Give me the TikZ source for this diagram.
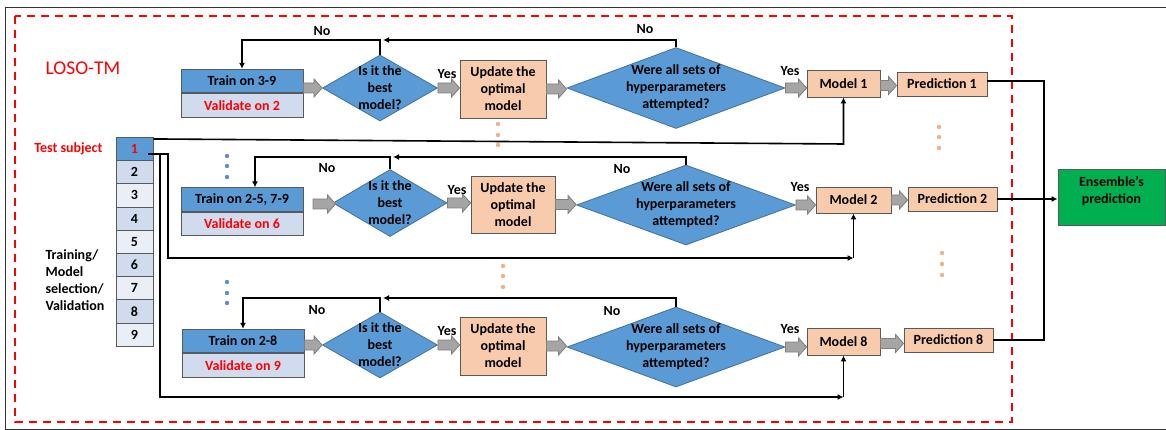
\documentclass[tikz,border=0pt]{standalone}
\usepackage{fontspec}
\setmainfont{Carlito}
\usetikzlibrary{shapes.geometric,arrows.meta,positioning,calc}

\definecolor{boxblue}{HTML}{5B9BD5}
\definecolor{diaedge}{HTML}{41719C}
\definecolor{valblue}{HTML}{D0DCEE}
\definecolor{celllight}{HTML}{E9EEF7}
\definecolor{peach}{HTML}{F8CBAD}
\definecolor{dotpeach}{HTML}{F4B183}
\definecolor{dotblue}{HTML}{5B8FCB}
\definecolor{arrgray}{HTML}{A5A5A5}
\definecolor{arredge}{HTML}{7F7F7F}
\definecolor{boxedge}{HTML}{595959}
\definecolor{enscol}{HTML}{00B050}
\definecolor{losored}{HTML}{FF0000}

\tikzset{
	txt/.style={font=\fontsize{14}{17}\selectfont\bfseries, align=center},
	trainbox/.style={txt, draw=boxedge, line width=0.9pt, fill=boxblue, minimum width=122pt, minimum height=23.5pt, inner sep=0pt},
	valbox/.style={trainbox, fill=valblue, text=losored},
	peachbox/.style={txt, draw=boxedge, line width=0.9pt, fill=peach, inner sep=0pt},
	decide/.style={diamond, draw=diaedge, line width=0.8pt, fill=boxblue, inner sep=0pt, aspect=1.7},
	cell/.style={txt, draw=boxedge, line width=0.9pt, minimum width=37pt, minimum height=23.2pt, inner sep=0pt},
	conn/.style={line width=1.6pt, -{Latex[length=6pt,width=6pt]}},
	blkarrow/.style={draw=arredge, fill=arrgray, line width=0.8pt,
		to path={let \p1=(\tikztostart), \p2=(\tikztotarget) in
			(\x1,\y1+5pt) -- (\x2-8pt,\y1+5pt) -- (\x2-8pt,\y1+9pt) -- (\x2,\y1)
			-- (\x2-8pt,\y1-9pt) -- (\x2-8pt,\y1-5pt) -- (\x1,\y1-5pt) -- cycle}},
	dots/.style={radius=2.2pt}
}

\begin{document}
\begin{tikzpicture}[x=1pt,y=-1pt]
	\useasboundingbox (0,0) rectangle (1166,430);
	\draw[line width=0.8pt, black!80] (1166,7) -- (5,7) -- (5,429) -- (1166,429);
	\draw[losored, line width=2pt, dash pattern=on 8pt off 6pt] (15,16) rectangle (1012,422);
	
	\node[font=\fontsize{19.5}{22}\selectfont, text=losored] (loso) at (83,68) {LOSO-TM};
	\node[txt, text=losored, anchor=east] (testlbl) at (106,149) {Test subject};
	\node[txt, align=left, anchor=west] (trainlbl) at (42,280.5) {Training/\\Model\\selection/\\Validation};
	
	% subjects
	\node[cell, fill=boxblue, text=losored] (c1) at (134.5,149) {1};
	\node[cell, fill=valblue] (c2) at (134.5,172.2) {2};
	\node[cell, fill=celllight] (c3) at (134.5,195.4) {3};
	\node[cell, fill=valblue] (c4) at (134.5,218.6) {4};
	\node[cell, fill=celllight] (c5) at (134.5,241.8) {5};
	\node[cell, fill=valblue] (c6) at (134.5,265) {6};
	\node[cell, fill=celllight] (c7) at (134.5,288.2) {7};
	\node[cell, fill=valblue] (c8) at (134.5,311.4) {8};
	\node[cell, fill=celllight] (c9) at (134.5,334.6) {9};
	
	% fold 1
	\node[trainbox] (tr1) at (242,81) {Train on 3-9};
	\node[valbox, below=0pt of tr1] (va1) {Validate on 2};
	\node[decide, minimum width=115pt, minimum height=66pt, label={[txt]center:{Is it the\\best\\model?}}] (d11) at (380,88) {};
	\node[peachbox, minimum width=86pt, minimum height=58pt] (up1) at (503,89) {Update the\\optimal\\model};
	\node[decide, minimum width=218pt, minimum height=81pt, label={[txt]center:{Were all sets of\\hyperparameters\\attempted?}}] (d12) at (676,88) {};
	\node[peachbox, minimum width=73pt, minimum height=27pt] (m1) at (843.5,83.5) {Model 1};
	\node[peachbox, minimum width=90pt, minimum height=24pt] (p1) at (942,84) {Prediction 1};
	
	% fold 2
	\node[trainbox] (tr2) at (242,199.5) {Train on 2-5, 7-9};
	\node[valbox, below=0pt of tr2] (va2) {Validate on 6};
	\node[decide, minimum width=114pt, minimum height=67pt, label={[txt]center:{Is it the\\best\\model?}}] (d21) at (390,203) {};
	\node[peachbox, minimum width=84pt, minimum height=57pt] (up2) at (513,204.5) {Update the\\optimal\\model};
	\node[decide, minimum width=219pt, minimum height=80pt, label={[txt]center:{Were all sets of\\hyperparameters\\attempted?}}] (d22) at (686,205) {};
	\node[peachbox, minimum width=75pt, minimum height=26pt] (m2) at (853.5,200) {Model 2};
	\node[peachbox, minimum width=89pt, minimum height=24pt] (p2) at (952.5,199) {Prediction 2};
	
	% fold 8
	\node[trainbox] (tr3) at (243,341) {Train on 2-8};
	\node[valbox, below=0pt of tr3] (va3) {Validate on 9};
	\node[decide, minimum width=115pt, minimum height=66pt, label={[txt]center:{Is it the\\best\\model?}}] (d31) at (380,345) {};
	\node[peachbox, minimum width=86pt, minimum height=58pt] (up3) at (503,346) {Update the\\optimal\\model};
	\node[decide, minimum width=218pt, minimum height=80pt, label={[txt]center:{Were all sets of\\hyperparameters\\attempted?}}] (d32) at (676,347) {};
	\node[peachbox, minimum width=73pt, minimum height=27pt] (m8) at (843.5,341.5) {Model 8};
	\node[peachbox, minimum width=89pt, minimum height=24pt] (p8) at (948.5,340) {Prediction 8};
	
	\node[draw=boxedge, line width=0.9pt, fill=enscol, minimum width=107pt, minimum height=56pt, inner sep=0pt, label={[txt,yshift=6pt]center:{Ensemble’s\\prediction}}] (ens) at (1111.5,197) {};
	
	% block arrows
	\draw[blkarrow] (tr1.east |- d11.west) to (d11.west);
	\draw[blkarrow] (d11.east) to (up1.west);
	\draw[blkarrow] (up1.east) to (d12.west);
	\draw[blkarrow] (d12.east) to (m1.west);
	\draw[blkarrow] ([yshift=-2pt]m1.east) to (p1.west);
	\coordinate (a2) at (313,204);
	\draw[blkarrow] (a2) to ([xshift=3pt]d21.west);
	\draw[blkarrow] (d21.east) to (up2.west);
	\draw[blkarrow] (up2.east) to (d22.west);
	\draw[blkarrow] (d22.east) to (m2.west);
	\draw[blkarrow] (m2.east) to (p2.west);
	\draw[blkarrow] (tr3.east |- d31.west) to (d31.west);
	\draw[blkarrow] (d31.east) to (up3.west);
	\draw[blkarrow] (up3.east) to (d32.west);
	\draw[blkarrow] (d32.east) to (m8.west);
	\draw[blkarrow] ([yshift=-2pt]m8.east) to (p8.west);
	
	% yes / no
	\node[txt] (yes11) at (447,74) {Yes};
	\node[txt] (yes12) at (790,71) {Yes};
	\node[txt] (yes21) at (457,190) {Yes};
	\node[txt] (yes22) at (800,187) {Yes};
	\node[txt] (yes31) at (447,331) {Yes};
	\node[txt] (yes32) at (790,329) {Yes};
	\node[txt] (no11) at (322,31) {No};
	\node[txt] (no12) at (645,29) {No};
	\node[txt] (no21) at (327,168) {No};
	\node[txt] (no22) at (622,169) {No};
	\node[txt] (no31) at (317,310) {No};
	\node[txt] (no32) at (612,311) {No};
	
	% no loops
	\draw[conn] (d12.north) -- (d12.north |- 0,40) -- ([xshift=3pt]d11.north |- 0,40);
	\draw[conn] (d11.north) |- (tr1.north |- 0,40) -- (tr1.north);
	\draw[conn] (d22.north) -- (d22.north |- 0,157) -- ([xshift=3pt]d21.north |- 0,157);
	\draw[conn] (d21.north) |- ([xshift=13pt]tr2.north |- 0,157) -- ([xshift=13pt]tr2.north);
	\draw[conn] (d32.north) -- (d32.north |- 0,298) -- ([xshift=3pt]d31.north |- 0,298);
	\draw[conn] (d31.north) |- (tr3.north |- 0,298) -- (tr3.north);
	
	% test subject to the models
	\coordinate (src) at (148,154);
	\draw[conn] ([yshift=-2pt]c1.north east) -- (m1.south |- 0,144) -- (m1.south);
	\draw[conn] (src) -- (168,154) -- (168,258) -- (m2.south |- 0,258);
	\draw[conn] (m2.south |- 0,258) -- (m2.south);
	\draw[conn] (src) -- (160,154) -- (160,397) -- (m8.south |- 0,397);
	\draw[conn] (m8.south |- 0,397) -- (m8.south);
	
	% predictions to the ensemble
	\coordinate (bus) at (1044,0);
	\draw[line width=1.6pt] ([yshift=3pt]p1.east) -| (bus |- p8.east) -- (p8.east);
	\draw[conn] (p2.east) -- (ens.west |- p2.east);
	
	% dots
	\fill[dotpeach] (498,124) circle[dots] (498,135) circle[dots] (498,145) circle[dots];
	\fill[dotpeach] (939,127) circle[dots] (939,137) circle[dots] (939,148) circle[dots];
	\fill[dotpeach] (503,266) circle[dots] (503,276) circle[dots] (503,287) circle[dots];
	\fill[dotpeach] (942,253) circle[dots] (942,264) circle[dots] (942,275) circle[dots];
	\fill[dotblue] (227,156) circle[dots] (227,166) circle[dots] (227,177) circle[dots];
	\fill[dotblue] (227,282) circle[dots] (227,293) circle[dots] (227,303) circle[dots];
\end{tikzpicture}
\end{document}
